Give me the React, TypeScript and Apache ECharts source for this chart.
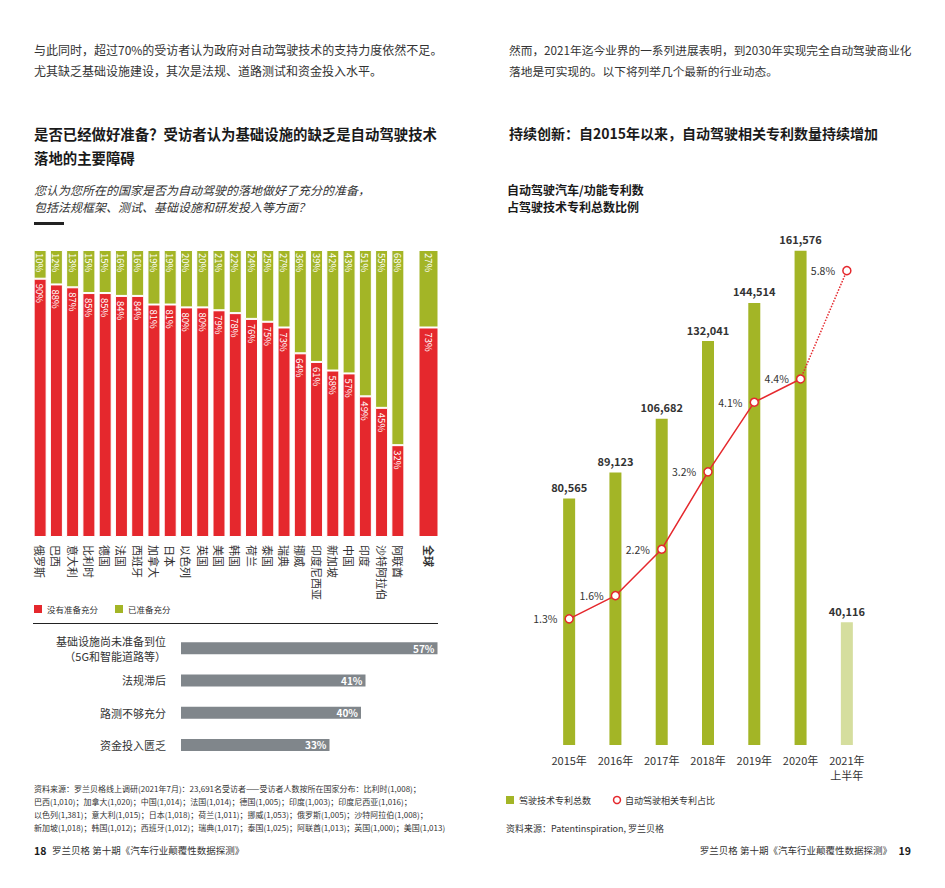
import React, { useEffect, useRef } from "react";
import * as echarts from "echarts";

const countries = ["俄罗斯", "巴西", "意大利", "比利时", "德国", "法国", "西班牙", "加拿大", "日本", "以色列", "英国", "美国", "韩国", "荷兰", "泰国", "瑞典", "挪威", "印度尼西亚", "新加坡", "中国", "印度", "沙特阿拉伯", "阿联酋"];
const notReady = [90, 88, 87, 85, 85, 84, 84, 81, 81, 80, 80, 79, 78, 76, 75, 73, 64, 61, 58, 57, 49, 45, 32];
const ready = [10, 12, 13, 15, 15, 16, 16, 19, 19, 20, 20, 21, 22, 24, 25, 27, 36, 39, 42, 43, 51, 55, 68];
const globalCat = ["全球"];
const globalNotReady = [73];
const globalReady = [27];

const barrierCats = ["基础设施尚未准备到位\n（5G和智能道路等）", "法规滞后", "路测不够充分", "资金投入匮乏"];
const barrierValues = [57, 41, 40, 33];

const years = ["2015年", "2016年", "2017年", "2018年", "2019年", "2020年", "2021年\n上半年"];
const patentTotals = [80565, 89123, 106682, 132041, 144514, 161576, 40116];
const patentShare = [1.3, 1.6, 2.2, 3.2, 4.1, 4.4, 5.8];

const footnoteLines = [
  "资料来源：罗兰贝格线上调研(2021年7月)：23,691名受访者——受访者人数按所在国家分布：比利时(1,008)；",
  "巴西(1,010)；加拿大(1,020)；中国(1,014)；法国(1,014)；德国(1,005)；印度(1,003)；印度尼西亚(1,016)；",
  "以色列(1,381)；意大利(1,015)；日本(1,018)；荷兰(1,011)；挪威(1,053)；俄罗斯(1,005)；沙特阿拉伯(1,008)；",
  "新加坡(1,018)；韩国(1,012)；西班牙(1,012)；瑞典(1,017)；泰国(1,025)；阿联酋(1,013)；英国(1,000)；美国(1,013)",
];

const RED = "#e5282d";
const GREEN = "#a3b526";
const LIGHT_GREEN = "#d5de9e";
const GREY = "#80868b";
const DARK = "#222222";
const TEXT = "#333333";
const FONT = "'Noto Sans CJK SC', 'Noto Sans', sans-serif";

function txt(x: number, y: number, text: string, o: any = {}) {
  return {
    type: "text",
    x,
    y,
    silent: true,
    style: {
      text,
      fill: o.fill || TEXT,
      font: `${o.italic ? "italic " : ""}${o.bold ? "bold " : ""}${o.size || 12}px ${FONT}`,
      align: o.align || "left",
      verticalAlign: "middle",
    },
  };
}

export default function App() {
  const ref = useRef<HTMLDivElement>(null);
  useEffect(() => {
    if (!ref.current) return;
    const chart = echarts.init(ref.current, null, { renderer: "svg" });

    const stackLabel = (dist: number) => ({
      show: true,
      position: "insideTop",
      rotate: -90,
      align: "left",
      verticalAlign: "middle",
      distance: dist,
      color: "#fff",
      fontSize: 9.5,
      fontFamily: FONT,
      formatter: "{c}%",
    });

    const option: any = {
      animation: false,
      textStyle: { fontFamily: FONT },
      grid: [
        { left: 32, top: 250, width: 374, height: 287 },
        { left: 419, top: 250, width: 19, height: 287 },
        { left: 181, top: 632, width: 270, height: 129 },
        { left: 546, top: 225, width: 324, height: 520 },
      ],
      xAxis: [
        {
          gridIndex: 0,
          type: "category",
          data: countries,
          axisLine: { show: false },
          axisTick: { show: false },
          axisLabel: { rotate: -90, margin: 8, fontSize: 11, color: TEXT, interval: 0, fontFamily: FONT },
        },
        {
          gridIndex: 1,
          type: "category",
          data: globalCat,
          axisLine: { show: false },
          axisTick: { show: false },
          axisLabel: { rotate: -90, margin: 8, fontSize: 11, fontWeight: "bold", color: TEXT, fontFamily: FONT },
        },
        { gridIndex: 2, type: "value", min: 0, max: 60, show: false },
        {
          gridIndex: 3,
          type: "category",
          data: years,
          axisLine: { show: false },
          axisTick: { show: false },
          axisLabel: { margin: 7, fontSize: 11, color: TEXT, lineHeight: 15, interval: 0, fontFamily: FONT },
        },
      ],
      yAxis: [
        { gridIndex: 0, type: "value", min: 0, max: 100, show: false },
        { gridIndex: 1, type: "value", min: 0, max: 100, show: false },
        {
          gridIndex: 2,
          type: "category",
          data: barrierCats,
          inverse: true,
          axisLine: { show: false },
          axisTick: { show: false },
          axisLabel: { margin: 15, fontSize: 11, color: TEXT, lineHeight: 15, align: "right", fontFamily: FONT },
        },
        { gridIndex: 3, type: "value", min: 0, max: 170000, show: false },
        { gridIndex: 3, type: "value", min: -0.33, max: 6.39, show: false },
      ],
      series: [
        {
          type: "bar",
          xAxisIndex: 0,
          yAxisIndex: 0,
          stack: "c",
          data: notReady,
          barWidth: 13,
          itemStyle: { color: RED, borderColor: "#fff", borderWidth: 1 },
          label: stackLabel(5),
        },
        {
          type: "bar",
          xAxisIndex: 0,
          yAxisIndex: 0,
          stack: "c",
          data: ready,
          barWidth: 13,
          itemStyle: { color: GREEN, borderColor: "#fff", borderWidth: 1 },
          label: stackLabel(3),
        },
        {
          type: "bar",
          xAxisIndex: 1,
          yAxisIndex: 1,
          stack: "g",
          data: globalNotReady,
          barWidth: 20,
          itemStyle: { color: RED, borderColor: "#fff", borderWidth: 1 },
          label: stackLabel(5),
        },
        {
          type: "bar",
          xAxisIndex: 1,
          yAxisIndex: 1,
          stack: "g",
          data: globalReady,
          barWidth: 20,
          itemStyle: { color: GREEN, borderColor: "#fff", borderWidth: 1 },
          label: stackLabel(3),
        },
        {
          type: "bar",
          xAxisIndex: 2,
          yAxisIndex: 2,
          data: barrierValues,
          barWidth: 12,
          itemStyle: { color: GREY },
          label: {
            show: true,
            position: "insideRight",
            distance: 3,
            color: "#fff",
            fontWeight: "bold",
            fontSize: 10,
            fontFamily: FONT,
            formatter: "{c}%",
          },
        },
        {
          type: "bar",
          xAxisIndex: 3,
          yAxisIndex: 3,
          data: patentTotals.map((v, i) => ({
            value: v,
            itemStyle: { color: i === patentTotals.length - 1 ? LIGHT_GREEN : GREEN },
          })),
          barWidth: 12,
          label: {
            show: true,
            position: "top",
            distance: 6,
            color: TEXT,
            fontWeight: "bold",
            fontSize: 11,
            fontFamily: FONT,
            formatter: (p: any) => Number(p.value).toLocaleString("en-US"),
          },
        },
        {
          type: "line",
          xAxisIndex: 3,
          yAxisIndex: 4,
          data: [null, null, null, null, null, { value: patentShare[5], symbol: "none", label: { show: false } }, patentShare[6]].map(
            (d) => (d === null ? "-" : d)
          ),
          symbol: "circle",
          symbolSize: 8,
          z: 5,
          lineStyle: { color: RED, width: 1.5, type: "dotted" },
          itemStyle: { color: "#fff", borderColor: RED, borderWidth: 1.5 },
          label: {
            show: true,
            position: "left",
            distance: 7,
            color: TEXT,
            fontSize: 10.5,
            fontFamily: FONT,
            formatter: "{c}%",
          },
        },
        {
          type: "line",
          xAxisIndex: 3,
          yAxisIndex: 4,
          data: patentShare.map((v, i) => (i < 6 ? v : "-")),
          symbol: "circle",
          symbolSize: 8,
          z: 6,
          lineStyle: { color: RED, width: 1.5 },
          itemStyle: { color: "#fff", borderColor: RED, borderWidth: 1.5 },
          label: {
            show: true,
            position: "left",
            distance: 7,
            color: TEXT,
            fontSize: 10.5,
            fontFamily: FONT,
            formatter: "{c}%",
          },
        },
      ],
      graphic: [
        txt(34, 49, "与此同时，超过70%的受访者认为政府对自动驾驶技术的支持力度依然不足。", { size: 12 }),
        txt(34, 70, "尤其缺乏基础设施建设，其次是法规、道路测试和资金投入水平。", { size: 12 }),
        txt(509, 49, "然而，2021年迄今业界的一系列进展表明，到2030年实现完全自动驾驶商业化", { size: 11.7 }),
        txt(509, 70, "落地是可实现的。以下将列举几个最新的行业动态。", { size: 11.7 }),
        txt(34, 133, "是否已经做好准备？受访者认为基础设施的缺乏是自动驾驶技术", { size: 14.4, bold: true, fill: "#1a1a1a" }),
        txt(34, 157, "落地的主要障碍", { size: 14.4, bold: true, fill: "#1a1a1a" }),
        txt(509, 133, "持续创新：自2015年以来，自动驾驶相关专利数量持续增加", { size: 14, bold: true, fill: "#1a1a1a" }),
        txt(34, 189, "您认为您所在的国家是否为自动驾驶的落地做好了充分的准备，", { size: 12, italic: true }),
        txt(34, 206, "包括法规框架、测试、基础设施和研发投入等方面？", { size: 12, italic: true }),
        { type: "rect", silent: true, shape: { x: 34, y: 222, width: 30, height: 3 }, style: { fill: DARK } },
        txt(507, 189, "自动驾驶汽车/功能专利数", { size: 12, bold: true, fill: "#1a1a1a" }),
        txt(507, 206, "占驾驶技术专利总数比例", { size: 12, bold: true, fill: "#1a1a1a" }),
        { type: "rect", silent: true, shape: { x: 34, y: 605, width: 8, height: 8 }, style: { fill: RED } },
        txt(47, 609, "没有准备充分", { size: 8.5 }),
        { type: "rect", silent: true, shape: { x: 115, y: 605, width: 8, height: 8 }, style: { fill: GREEN } },
        txt(128, 609, "已准备充分", { size: 8.5 }),
        { type: "line", silent: true, shape: { x1: 33, y1: 623.5, x2: 438, y2: 623.5 }, style: { stroke: DARK, lineWidth: 1 } },
        ...footnoteLines.map((l, i) => txt(34, 788 + i * 13.3, l, { size: 8 })),
        txt(34, 850, "18", { size: 10.5, bold: true, fill: "#1a1a1a" }),
        txt(52, 850, "罗兰贝格 第十期《汽车行业颠覆性数据探测》", { size: 9.5 }),
        { type: "rect", silent: true, shape: { x: 506, y: 796, width: 8, height: 8 }, style: { fill: GREEN } },
        txt(519, 800, "驾驶技术专利总数", { size: 9 }),
        { type: "circle", silent: true, shape: { cx: 617, cy: 800, r: 3.5 }, style: { fill: "#fff", stroke: RED, lineWidth: 1.5 } },
        txt(625, 800, "自动驾驶相关专利占比", { size: 9 }),
        txt(506, 828, "资料来源：Patentinspiration, 罗兰贝格", { size: 9 }),
        txt(892, 850, "罗兰贝格 第十期《汽车行业颠覆性数据探测》", { size: 9.5, align: "right" }),
        txt(911, 850, "19", { size: 10.5, bold: true, align: "right", fill: "#1a1a1a" }),
      ],
    };

    chart.setOption(option);
    return () => chart.dispose();
  }, []);

  return (
    <div
      ref={ref}
      style={{ position: "absolute", left: 0, top: 0, width: 945, height: 888, background: "#fff" }}
    />
  );
}
